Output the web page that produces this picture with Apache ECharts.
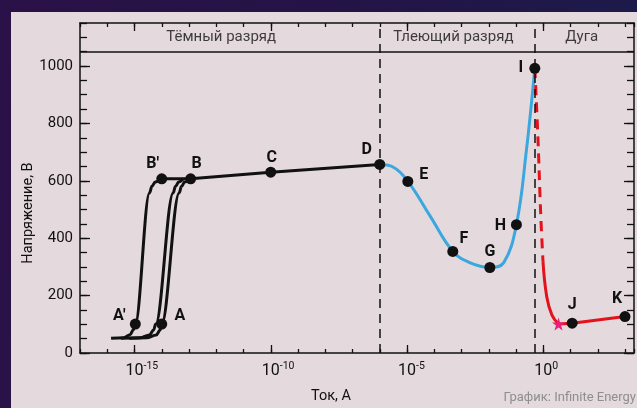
<!DOCTYPE html>
<html>
<head>
<meta charset="utf-8">
<script src="https://cdn.jsdelivr.net/npm/echarts@6/dist/echarts.min.js"></script>
<style>
html,body{margin:0;padding:0;width:637px;height:408px;overflow:hidden;}
body{background:linear-gradient(100deg,#2a1147 0%,#231446 50%,#1b1c4c 100%);position:relative;}
#panel{position:absolute;left:11px;top:12px;width:626px;height:396px;background:#e4d9dd;}
#chart{position:absolute;left:0;top:0;width:637px;height:408px;}
</style>
</head>
<body>
<div id="panel"></div>
<div id="chart"></div>
<script>
// ---- data (x values are log10 of current in A, y values are voltage in V) ----
const xMajorExponents = [-15, -10, -5, 0];
const yLabelValues = [0, 200, 400, 600, 800, 1000];

// dark discharge: three S-shaped onset curves
const darkCurveLeft = [[-15.86,51],[-15.40,53],[-15.16,64],[-15.04,81],[-14.97,101],[-14.45,558],[-14.36,581],[-14.24,596],[-14.0,607]];
const darkCurveMid = [[-15.5,51],[-14.8,53],[-14.45,63],[-14.30,80],[-14.22,101],[-13.58,558],[-13.50,580],[-13.38,596],[-13.2,608]];
const darkCurveRight = [[-15.2,51],[-14.55,53],[-14.2,63],[-14.06,80],[-14.0,101],[-13.36,558],[-13.28,580],[-13.16,596],[-12.94,607]];
const darkPlateau = [[-14.0,607],[-12.94,607],[-10.0,630],[-6.0,657]];
// glow discharge
const glowCurve = [[-6.0,657],[-5.55,650],[-4.97,598],[-4.15,477],[-3.32,354],[-2.7,315],[-1.96,298],[-1.45,315],[-0.985,447],[-0.62,705],[-0.31,992]];
// arc
const arcTransition = [[-0.31,992],[-0.2,760],[-0.09,476],[-0.01,320]];
const arcDrop = [[-0.01,320],[0.13,195],[0.32,132],[0.56,101]];
const arcTail = [[0.56,101],[1.06,104],[3.0,127]];
const arcStar = [[0.56,101]];

// labelled points
const pointNames = ["A'", "A", "B'", "B", "C", "D", "E", "F", "G", "H", "I", "J", "K"];
const pointLogI = [-14.97, -14.0, -14.0, -12.94, -10.0, -6.0, -4.97, -3.32, -1.96, -0.985, -0.31, 1.06, 3.0];
const pointV = [101, 101, 607, 607, 630, 657, 598, 354, 298, 447, 992, 104, 127];

// regions
const regionNames = ["Тёмный разряд", "Тлеющий разряд", "Дуга"];
const regionCenters = [-11.82, -3.3, 1.41];
const regionBounds = [-6.0, -0.31];
const headerDividerV = 1050;
const headerLabelV = 1100;

// ---- styles ----
const FONT = 'Roboto';
const INK = '#111111';
const BLUE = '#3aa7de';
const RED = '#e3131b';
const PINK = '#e8207a';
const labelOffsets = {
  "A'": [-16,-8], "A": [18,-8], "B'": [-9,-15], "B": [6,-15], "C": [1,-14], "D": [-13,-14],
  "E": [16,-6], "F": [11,-12], "G": [0,-15], "H": [-16,1], "I": [-14,0], "J": [0,-18], "K": [-8,-18]
};
const X_MIN = -17, X_MAX = 3.33, Y_MIN = 0, Y_MAX = 1150;

const chart = echarts.init(document.getElementById('chart'), null, {renderer: 'canvas'});

function xAxisBase(pos, withLabels, major) {
  return {
    type: 'value', position: pos, min: X_MIN, max: X_MAX, interval: 1,
    axisLine: {show: !major, onZero: false, lineStyle: {color: INK, width: 1.5}},
    axisTick: major ? {show: true, inside: true, length: 8, customValues: xMajorExponents, lineStyle: {color: INK, width: 1.3}}
                    : {show: true, inside: true, length: 4, lineStyle: {color: INK, width: 1.3}},
    splitLine: {show: false},
    axisLabel: withLabels ? {
      show: true, margin: 8,
      formatter: function (v) {
        const r = Math.round(v);
        if (Math.abs(v - r) > 1e-6 || xMajorExponents.indexOf(r) < 0) return '';
        const e = String(r);
        return '{h|' + e + '}{b|10}{s|' + e + '}';
      },
      rich: {
        b: {fontSize: 16, fontFamily: FONT, color: INK},
        s: {fontSize: 10.5, fontFamily: FONT, color: INK, padding: [0, 0, 8, 0]},
        h: {fontSize: 10.5, fontFamily: FONT, color: 'rgba(0,0,0,0)', padding: [0, 0, 8, 0]}
      }
    } : {show: false}
  };
}
function yAxisBase(pos, withLabels, major) {
  return {
    type: 'value', position: pos, min: Y_MIN, max: Y_MAX, interval: 50,
    axisLine: {show: !major, onZero: false, lineStyle: {color: INK, width: 1.5}},
    axisTick: major ? {show: true, inside: true, length: 10, customValues: yLabelValues, lineStyle: {color: INK, width: 1.3}}
                    : {show: true, inside: true, length: 7, lineStyle: {color: INK, width: 1.3}},
    splitLine: {show: false},
    axisLabel: withLabels ? {
      show: true, margin: 7, fontSize: 15, fontFamily: FONT, color: INK,
      formatter: function (v) { return yLabelValues.indexOf(Math.round(v)) >= 0 && Math.abs(v - Math.round(v)) < 1e-6 ? String(Math.round(v)) : ''; }
    } : {show: false}
  };
}

function curve(data, color, dashed, z, sm) {
  return {
    type: 'line', data: data, xAxisIndex: 0, yAxisIndex: 0,
    smooth: sm === undefined ? 0.35 : sm, showSymbol: false, symbol: 'none', silent: true, z: z || 3,
    lineStyle: {color: color, width: 3, type: dashed ? [10, 7] : 'solid', cap: 'butt'}
  };
}

const pointData = pointNames.map(function (n, i) {
  return {
    value: [pointLogI[i], pointV[i]], name: n,
    label: {show: true, position: 'inside', offset: labelOffsets[n], formatter: n,
            fontSize: 16, fontWeight: 'bold', fontFamily: FONT, color: INK, align: 'center', verticalAlign: 'middle'}
  };
});

const regionData = regionNames.map(function (n, i) {
  return {value: [regionCenters[i], headerLabelV], name: n};
});

const darkSeries = [darkCurveLeft, darkCurveMid, darkCurveRight].map(function (d) {
  const s = curve(d, INK, false, 3, 0.35);
  s.smoothMonotone = 'x';
  return s;
});

chart.setOption({
  animation: false,
  backgroundColor: 'transparent',
  grid: {left: 80, right: 1, top: 23, bottom: 55, containLabel: false},
  xAxis: [xAxisBase('bottom', true, false), xAxisBase('bottom', false, true), xAxisBase('top', false, false), xAxisBase('top', false, true)],
  yAxis: [yAxisBase('left', true, false), yAxisBase('left', false, true), yAxisBase('right', false, false), yAxisBase('right', false, true)],
  series: [
    {
      type: 'line', data: [], xAxisIndex: 0, yAxisIndex: 0, silent: true, z: 1,
      markLine: {
        silent: true, symbol: ['none', 'none'], label: {show: false}, animation: false,
        data: [
          {xAxis: regionBounds[0], lineStyle: {color: INK, width: 1.5, type: [9, 6]}},
          {xAxis: regionBounds[1], lineStyle: {color: INK, width: 1.5, type: [9, 6]}},
          {yAxis: headerDividerV, lineStyle: {color: INK, width: 1.5, type: 'solid'}}
        ]
      }
    }
  ].concat(darkSeries).concat([
    curve(darkPlateau, INK, false, 3, false),
    curve(glowCurve, BLUE, false, 3, 0.4),
    curve(arcTransition, RED, true, 4, 0.4),
    curve(arcDrop, RED, false, 4, 0.45),
    curve(arcTail, RED, false, 4, false),
    {
      type: 'scatter', data: arcStar, xAxisIndex: 0, yAxisIndex: 0, silent: true, z: 6,
      symbol: 'path://M50,0 L61.8,35.1 L98.9,35.5 L69.1,57.6 L80.2,93 L50,71.5 L19.8,93 L30.9,57.6 L1.1,35.5 L38.2,35.1 Z',
      symbolSize: 13, itemStyle: {color: PINK, opacity: 1}
    },
    {
      type: 'scatter', data: pointData, xAxisIndex: 0, yAxisIndex: 0, silent: true, z: 7,
      symbol: 'circle', symbolSize: 11, itemStyle: {color: INK, opacity: 1}
    },
    {
      type: 'scatter', data: regionData, xAxisIndex: 0, yAxisIndex: 0, silent: true, z: 7,
      symbolSize: 0, itemStyle: {color: 'rgba(0,0,0,0)'},
      label: {show: true, position: 'inside', formatter: '{b}', fontSize: 15, fontFamily: FONT, color: INK}
    }
  ]),
  graphic: [
    {type: 'text', x: 28, y: 213, rotation: Math.PI / 2,
     style: {text: 'Напряжение, В', fontSize: 14.5, fontFamily: FONT, fill: INK, align: 'center', verticalAlign: 'middle'}},
    {type: 'text', x: 331, y: 396,
     style: {text: 'Ток, А', fontSize: 14.5, fontFamily: FONT, fill: INK, align: 'center', verticalAlign: 'middle'}},
    {type: 'text', x: 636, y: 398,
     style: {text: 'График: Infinite Energy', fontSize: 13, fontFamily: FONT, fill: '#8e8e8e', align: 'right', verticalAlign: 'middle'}}
  ]
});
</script>
</body>
</html>
